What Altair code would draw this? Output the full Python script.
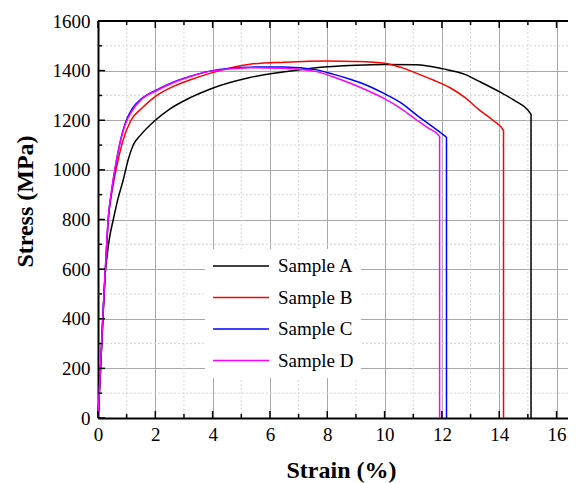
import altair as alt
import pandas as pd

# ---- data ----
a_strain = [0, 0.09, 0.17, 0.26, 0.30, 0.40, 0.53, 0.70, 0.88, 1.05, 1.23, 1.50, 2.0, 2.5, 3.2, 3.9, 5.3, 6.5, 7.6, 9.0, 10.0, 11.1, 12.05, 12.8, 13.33, 14.0, 14.5, 15.11, 15.11]
a_stress = [0, 200, 400, 595, 637, 725, 798, 885, 959, 1040, 1100, 1142, 1200, 1245, 1290, 1325, 1372, 1395, 1412, 1422, 1425, 1424, 1407, 1385, 1355, 1315, 1282, 1224, 0]

b_strain = [0, 0.09, 0.17, 0.26, 0.36, 0.47, 0.63, 0.85, 1.15, 1.5, 2.05, 2.6, 3.2, 3.9, 5.3, 6.5, 8.0, 9.0, 10.0, 10.6, 11.1, 11.7, 12.3, 12.8, 13.3, 13.8, 14.15, 14.15]
b_stress = [0, 200, 400, 600, 800, 900, 1000, 1110, 1200, 1245, 1300, 1335, 1362, 1389, 1426, 1434, 1439, 1437, 1430, 1412, 1390, 1362, 1330, 1292, 1242, 1198, 1158, 0]

c_strain = [0, 0.09, 0.17, 0.26, 0.36, 0.47, 0.59, 0.75, 0.94, 1.2, 1.5, 2.05, 2.6, 3.2, 3.9, 5.3, 6.5, 7.63, 8.2, 8.8, 9.4, 9.96, 10.6, 11.12, 11.6, 12.05, 12.16, 12.16]
c_stress = [0, 205, 410, 605, 805, 910, 1000, 1100, 1185, 1248, 1285, 1322, 1352, 1376, 1398, 1414, 1415, 1403, 1386, 1365, 1340, 1309, 1268, 1221, 1180, 1141, 1130, 0]

d_strain = [0, 0.09, 0.17, 0.26, 0.36, 0.47, 0.59, 0.75, 0.94, 1.2, 1.5, 2.05, 2.6, 3.2, 3.9, 5.3, 6.5, 7.63, 8.2, 8.8, 9.4, 9.96, 10.6, 11.12, 11.5, 11.92, 11.92]
d_stress = [0, 210, 415, 610, 810, 915, 1005, 1100, 1180, 1240, 1282, 1320, 1350, 1375, 1397, 1412, 1410, 1396, 1375, 1349, 1320, 1289, 1245, 1201, 1170, 1135, 0]

samples = ["Sample A", "Sample B", "Sample C", "Sample D"]
colors = ["#000000", "#ff0000", "#0000ff", "#ff00ff"]

x_major = [0, 2, 4, 6, 8, 10, 12, 14, 16]
x_minor = [1, 3, 5, 7, 9, 11, 13, 15]
y_major = [0, 200, 400, 600, 800, 1000, 1200, 1400, 1600]
y_minor = [100, 300, 500, 700, 900, 1100, 1300, 1500]

X_MAX = 16.4
Y_MAX = 1600

rows = []
for name, xs_, ys_ in zip(samples, [a_strain, b_strain, c_strain, d_strain],
                          [a_stress, b_stress, c_stress, d_stress]):
    for i, (xv, yv) in enumerate(zip(xs_, ys_)):
        rows.append({"sample": name, "strain": xv, "stress": yv, "order": i})
curves = pd.DataFrame(rows)

FONT = "Liberation Serif"
xs = alt.Scale(domain=[0, X_MAX], nice=False, zero=False)
ys = alt.Scale(domain=[0, Y_MAX], nice=False)

x_axis = alt.Axis(
    values=x_major, format="d", grid=True, gridColor="#a8a8a8", gridWidth=1,
    ticks=False, domainColor="#000000", domainWidth=2,
    labelFont=FONT, labelFontSize=19, labelColor="#000000", labelPadding=7,
    labelFlush=False,
    title="Strain (%)", titleFont=FONT, titleFontSize=24, titleFontWeight="bold",
    titleColor="#000000", titleX=243, titleY=59, titleBaseline="alphabetic",
    titleAlign="center")
y_axis = alt.Axis(
    values=y_major, format="d", grid=True, gridColor="#a8a8a8", gridWidth=1,
    ticks=False, domainColor="#000000", domainWidth=2,
    labelFont=FONT, labelFontSize=19, labelColor="#000000", labelPadding=8,
    labelFlush=False,
    title="Stress (MPa)", titleFont=FONT, titleFontSize=24, titleFontWeight="bold",
    titleColor="#000000", titleX=-73, titleY=180, titleAngle=270,
    titleBaseline="middle", titleAlign="center")


def vrules(vals, y0, y1):
    return pd.DataFrame({"x": vals, "x2": vals, "y": [y0] * len(vals), "y2": [y1] * len(vals)})


def hrules(vals, x0, x1):
    return pd.DataFrame({"y": vals, "y2": vals, "x": [x0] * len(vals), "x2": [x1] * len(vals)})


def rule_layer(df, **mark):
    return alt.Chart(df).mark_rule(**mark).encode(
        x=alt.X("x:Q", scale=xs, axis=x_axis),
        x2="x2:Q",
        y=alt.Y("y:Q", scale=ys, axis=y_axis),
        y2="y2:Q",
    )


minor_style = dict(color="#d6d6d6", strokeDash=[2, 2], strokeWidth=1)
tick_style = dict(color="#000000", strokeWidth=1.5)

gx_minor = rule_layer(vrules(x_minor, 0, Y_MAX), **minor_style)
gy_minor = rule_layer(hrules(y_minor, 0, X_MAX), **minor_style)

lines = alt.Chart(curves).mark_line(strokeWidth=1.5, interpolate="monotone").encode(
    x=alt.X("strain:Q", scale=xs, axis=x_axis),
    y=alt.Y("stress:Q", scale=ys, axis=y_axis),
    color=alt.Color("sample:N", scale=alt.Scale(domain=samples, range=colors),
                    legend=alt.Legend(
                        title=None, orient="none", legendX=107, legendY=228,
                        padding=7, fillColor="#ffffff",
                        symbolType="stroke", symbolSize=3136, symbolStrokeWidth=1.5,
                        clipHeight=20, rowPadding=11.5, labelOffset=8,
                        labelFont=FONT, labelFontSize=19, labelColor="#000000")),
    order="order:Q",
)

tk_bx_major = rule_layer(vrules(x_major, 0, 28), **tick_style)
tk_bx_minor = rule_layer(vrules(x_minor, 0, 16), **tick_style)
tk_tx_major = rule_layer(vrules(x_major, Y_MAX, Y_MAX - 28), **tick_style)
tk_tx_minor = rule_layer(vrules(x_minor, Y_MAX, Y_MAX - 16), **tick_style)
tk_ly_major = rule_layer(hrules(y_major, 0, 0.245), **tick_style)
tk_ly_minor = rule_layer(hrules(y_minor, 0, 0.14), **tick_style)
top_border = rule_layer(hrules([Y_MAX], 0, X_MAX), color="#000000", strokeWidth=2)

chart = alt.layer(
    gx_minor, gy_minor, lines,
    tk_bx_major, tk_bx_minor, tk_tx_major, tk_tx_minor, tk_ly_major, tk_ly_minor, top_border
).properties(
    width=470, height=397,
    autosize=alt.AutoSizeParams(type="none"),
    padding={"left": 90, "top": 13, "right": 0, "bottom": 67},
).configure_view(stroke=None).configure(background="#ffffff")

chart.save("out.html", embed_options={"renderer": "svg", "actions": False})
